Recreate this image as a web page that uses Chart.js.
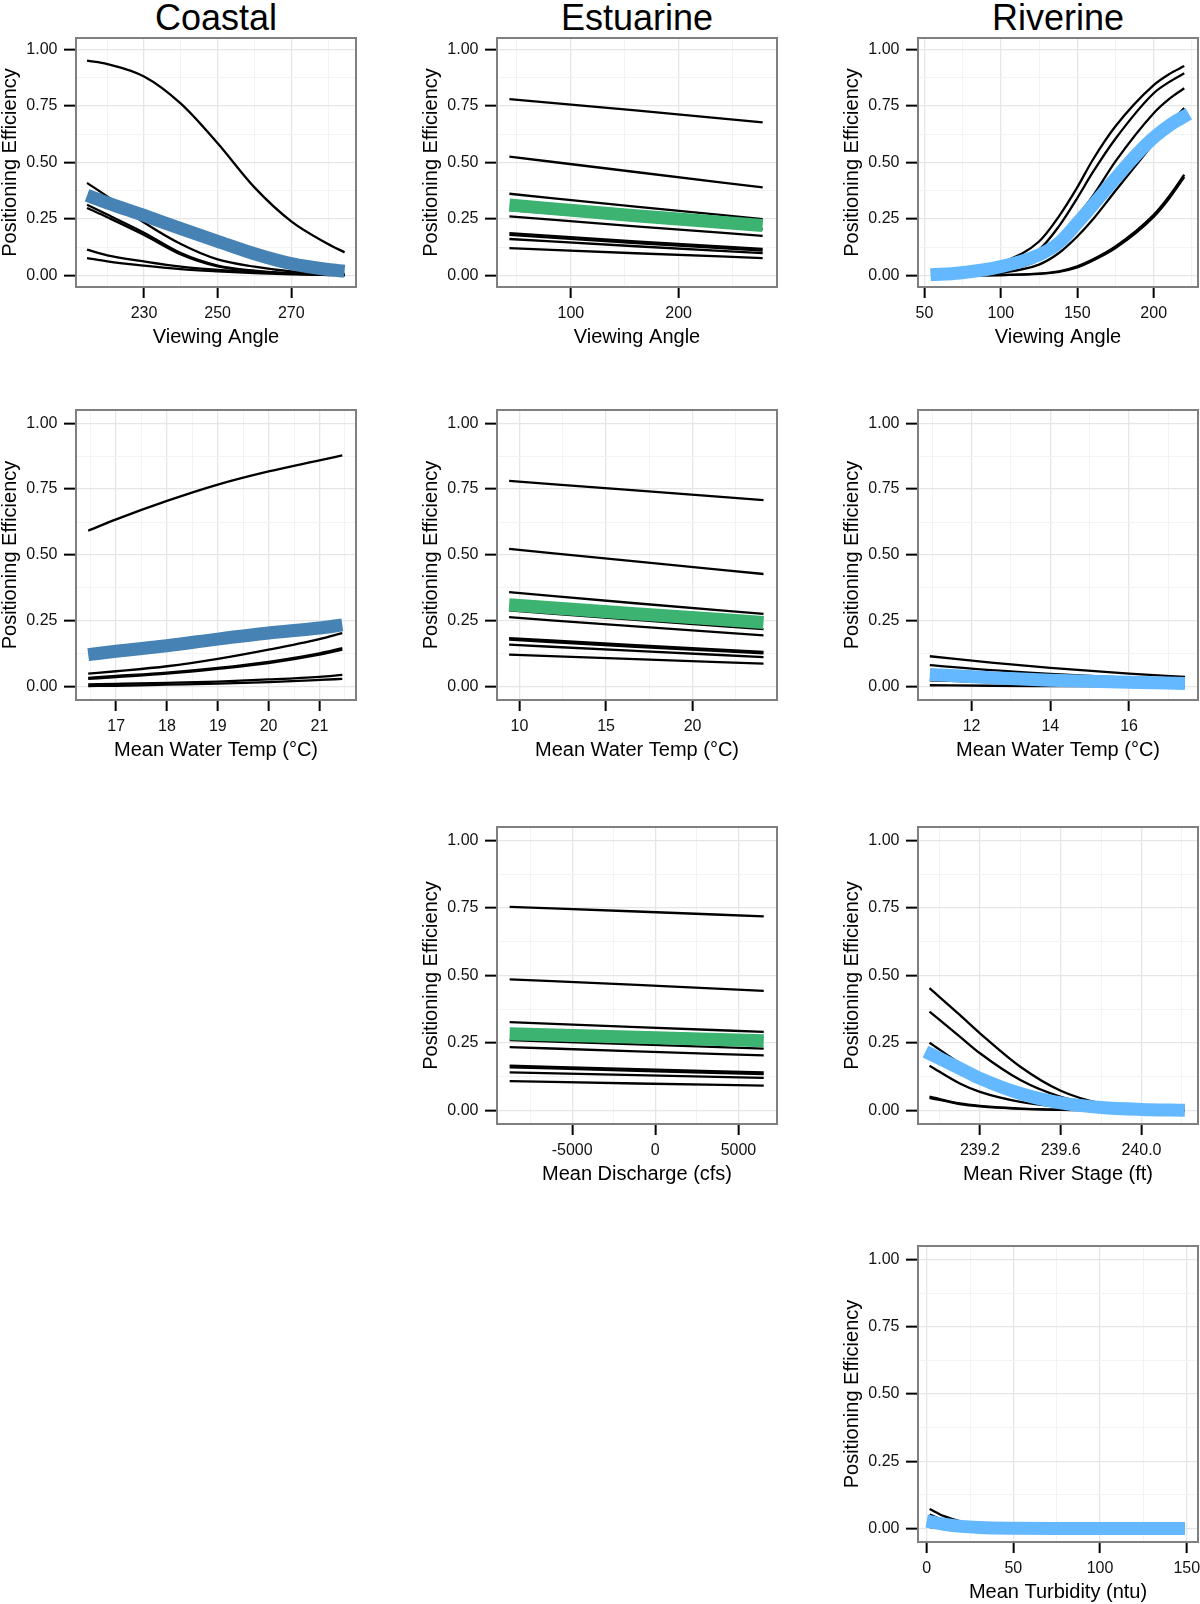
<!DOCTYPE html>
<html>
<head>
<meta charset="utf-8">
<title>Positioning Efficiency</title>
<script src="https://cdn.jsdelivr.net/npm/chart.js@4.4.1/dist/chart.umd.min.js"></script>
<style>
  html, body { margin: 0; padding: 0; background: #fff; overflow: hidden; }
  body { position: relative; width: 1200px; height: 1604px; font-family: "Liberation Sans", Arial, Helvetica, sans-serif; }
  .col-title { position: absolute; top: 0; font-size: 36px; line-height: 36px; text-align: center; color: #000; }
  canvas { position: absolute; }
</style>
</head>
<body>
<div class="col-title" style="left:76px;width:280px">Coastal</div>
<div class="col-title" style="left:497px;width:280px">Estuarine</div>
<div class="col-title" style="left:918px;width:280px">Riverine</div>

<script>
// ---- shared y axis ----
const yMajor = [0, 0.25, 0.5, 0.75, 1];
const yMinor = [0.125, 0.375, 0.625, 0.875];

// ---- Coastal, viewing angle ----
const coastalAngleX = [214.5, 220, 230, 240, 250, 260, 270, 280, 284.5];
const coastalAngleFit = [0.355, 0.322, 0.266, 0.208, 0.152, 0.097, 0.053, 0.027, 0.02];
const coastalAngleLines = [
  [0.95, 0.935, 0.88, 0.76, 0.585, 0.39, 0.24, 0.14, 0.103],
  [0.41, 0.35, 0.235, 0.14, 0.072, 0.04, 0.019, 0.01, 0.008],
  [0.313, 0.27, 0.19, 0.1, 0.045, 0.022, 0.01, 0.005, 0.004],
  [0.299, 0.258, 0.18, 0.094, 0.041, 0.02, 0.009, 0.005, 0.003],
  [0.115, 0.09, 0.063, 0.04, 0.026, 0.016, 0.009, 0.005, 0.003],
  [0.078, 0.063, 0.044, 0.029, 0.019, 0.011, 0.006, 0.003, 0.002]
];

// ---- Estuarine, viewing angle ----
const estuarineAngleX = [43, 160, 278];
const estuarineAngleFit = [0.312, 0.265, 0.222];
const estuarineAngleLines = [
  [0.78, 0.73, 0.677],
  [0.526, 0.458, 0.39],
  [0.362, 0.305, 0.25],
  [0.29, 0.247, 0.205],
  [0.262, 0.218, 0.176],
  [0.188, 0.151, 0.118],
  [0.18, 0.144, 0.111],
  [0.162, 0.13, 0.1],
  [0.122, 0.099, 0.078]
];

// ---- Riverine, viewing angle ----
const riverineAngleX = [55, 80, 100, 125, 138, 150, 160, 175, 200, 210, 220];
const riverineAngleFitX = [54, 73, 100, 125, 138, 150, 160, 175, 188, 200, 212, 223];
const riverineAngleFit = [0.004, 0.012, 0.04, 0.092, 0.145, 0.232, 0.31, 0.43, 0.53, 0.61, 0.672, 0.715];
const riverineAngleLines = [
  [0.002, 0.015, 0.056, 0.151, 0.262, 0.39, 0.51, 0.66, 0.842, 0.89, 0.926],
  [0.002, 0.012, 0.049, 0.115, 0.218, 0.343, 0.455, 0.605, 0.806, 0.855, 0.894],
  [0.001, 0.006, 0.026, 0.071, 0.159, 0.262, 0.35, 0.505, 0.718, 0.78, 0.828],
  [0, 0.003, 0.013, 0.049, 0.1, 0.173, 0.247, 0.375, 0.585, 0.67, 0.74],
  [0, 0.001, 0.003, 0.009, 0.019, 0.041, 0.071, 0.129, 0.269, 0.35, 0.446],
  [0, 0.001, 0.003, 0.008, 0.017, 0.037, 0.066, 0.122, 0.26, 0.34, 0.436]
];

// ---- Coastal, water temp ----
const coastalTempX = [16.45, 17, 18, 19, 20, 21, 21.45];
const coastalTempFit = [0.122, 0.135, 0.156, 0.181, 0.204, 0.223, 0.235];
const coastalTempLines = [
  [0.592, 0.635, 0.705, 0.767, 0.817, 0.859, 0.878],
  [0.05, 0.059, 0.078, 0.106, 0.141, 0.181, 0.204],
  [0.03, 0.037, 0.05, 0.068, 0.09, 0.122, 0.141],
  [0.034, 0.041, 0.054, 0.072, 0.095, 0.127, 0.147],
  [0.009, 0.011, 0.015, 0.02, 0.028, 0.038, 0.045],
  [0.003, 0.004, 0.008, 0.012, 0.018, 0.026, 0.03]
];

// ---- Estuarine, water temp ----
const estuarineTempX = [9.4, 16.7, 24.1];
const estuarineTempFit = [0.311, 0.277, 0.244];
const estuarineTempLines = [
  [0.781, 0.745, 0.708],
  [0.523, 0.476, 0.428],
  [0.359, 0.317, 0.277],
  [0.29, 0.254, 0.219],
  [0.264, 0.229, 0.195],
  [0.185, 0.158, 0.132],
  [0.179, 0.152, 0.127],
  [0.16, 0.136, 0.113],
  [0.122, 0.105, 0.088]
];

// ---- Riverine, water temp ----
const riverineTempX = [10.94, 12.5, 14, 16, 17.42];
const riverineTempFit = [0.047, 0.034, 0.025, 0.017, 0.013];
const riverineTempLines = [
  [0.116, 0.092, 0.072, 0.05, 0.038],
  [0.082, 0.063, 0.049, 0.034, 0.027],
  [0.025, 0.018, 0.013, 0.009, 0.007],
  [0.006, 0.004, 0.003, 0.002, 0.001]
];

// ---- Estuarine, discharge ----
const estuarineFlowX = [-8760, -1100, 6520];
const estuarineFlowFit = [0.284, 0.271, 0.258];
const estuarineFlowLines = [
  [0.754, 0.737, 0.719],
  [0.486, 0.465, 0.443],
  [0.327, 0.309, 0.291],
  [0.261, 0.245, 0.229],
  [0.235, 0.219, 0.204],
  [0.166, 0.153, 0.141],
  [0.16, 0.147, 0.135],
  [0.141, 0.131, 0.121],
  [0.109, 0.1, 0.092]
];

// ---- Riverine, river stage ----
const riverineStageX = [238.95, 239.1, 239.2, 239.4, 239.6, 239.8, 240.0, 240.215];
const riverineStageFitX = [238.93, 239.1, 239.2, 239.4, 239.6, 239.8, 240.0, 240.215];
const riverineStageFit = [0.218, 0.156, 0.119, 0.063, 0.028, 0.011, 0.004, 0.001];
const riverineStageLines = [
  [0.453, 0.354, 0.286, 0.162, 0.073, 0.026, 0.009, 0.003],
  [0.366, 0.274, 0.212, 0.113, 0.051, 0.019, 0.006, 0.002],
  [0.251, 0.175, 0.131, 0.069, 0.028, 0.011, 0.004, 0.001],
  [0.166, 0.1, 0.069, 0.032, 0.014, 0.006, 0.002, 0.001],
  [0.051, 0.026, 0.017, 0.007, 0.003, 0.001, 0, 0],
  [0.047, 0.024, 0.015, 0.006, 0.002, 0.001, 0, 0]
];

// ---- Riverine, turbidity ----
const turbidityX = [1.7, 10, 20, 30, 50, 75, 100, 149];
const turbidityFitX = [0, 10, 20, 30, 50, 75, 100, 149];
const turbidityFit = [0.028, 0.016, 0.008, 0.004, 0.001, 0, 0, 0];
const turbidityLines = [
  [0.073, 0.046, 0.026, 0.015, 0.006, 0.002, 0.001, 0],
  [0.052, 0.031, 0.017, 0.01, 0.004, 0.001, 0, 0],
  [0.005, 0.003, 0.002, 0.001, 0, 0, 0, 0]
];

const coastalColor = "#4682b4";
const estuarineColor = "#3cb371";
const riverineColor = "#63b8ff";

// plot area edges in page pixels
const colLeft = [76, 497, 918];
const colRight = [356, 777, 1198];
const rowTop = [38, 410, 827, 1246];
const rowBottom = [287, 700, 1124, 1542];

const panels = [
  { col: 0, row: 0, title: "Viewing Angle", min: 211.5, max: 287.6, major: [230, 250, 270], minor: [220, 240, 260, 280],
    x: coastalAngleX, lines: coastalAngleLines, fitX: coastalAngleX, fit: coastalAngleFit, color: coastalColor },
  { col: 1, row: 0, title: "Viewing Angle", min: 31.5, max: 291.3, major: [100, 200], minor: [50, 150, 250],
    x: estuarineAngleX, lines: estuarineAngleLines, fitX: estuarineAngleX, fit: estuarineAngleFit, color: estuarineColor },
  { col: 2, row: 0, title: "Viewing Angle", min: 45.8, max: 229, major: [50, 100, 150, 200], minor: [75, 125, 175, 225],
    x: riverineAngleX, lines: riverineAngleLines, fitX: riverineAngleFitX, fit: riverineAngleFit, color: riverineColor },
  { col: 0, row: 1, title: "Mean Water Temp (°C)", min: 16.21, max: 21.72, major: [17, 18, 19, 20, 21], minor: [16.5, 17.5, 18.5, 19.5, 20.5, 21.5],
    x: coastalTempX, lines: coastalTempLines, fitX: coastalTempX, fit: coastalTempFit, color: coastalColor },
  { col: 1, row: 1, title: "Mean Water Temp (°C)", min: 8.7, max: 24.88, major: [10, 15, 20], minor: [12.5, 17.5, 22.5],
    x: estuarineTempX, lines: estuarineTempLines, fitX: estuarineTempX, fit: estuarineTempFit, color: estuarineColor },
  { col: 2, row: 1, title: "Mean Water Temp (°C)", min: 10.64, max: 17.75, major: [12, 14, 16], minor: [11, 13, 15, 17],
    x: riverineTempX, lines: riverineTempLines, fitX: riverineTempX, fit: riverineTempFit, color: riverineColor },
  { col: 1, row: 2, title: "Mean Discharge (cfs)", min: -9520, max: 7317, major: [-5000, 0, 5000], minor: [-7500, -2500, 2500],
    x: estuarineFlowX, lines: estuarineFlowLines, fitX: estuarineFlowX, fit: estuarineFlowFit, color: estuarineColor },
  { col: 2, row: 2, title: "Mean River Stage (ft)", min: 238.893, max: 240.28, major: [239.2, 239.6, 240.0], minor: [239.0, 239.4, 239.8, 240.2],
    x: riverineStageX, lines: riverineStageLines, fitX: riverineStageFitX, fit: riverineStageFit, color: riverineColor, digits: 1 },
  { col: 2, row: 3, title: "Mean Turbidity (ntu)", min: -5, max: 156.5, major: [0, 50, 100, 150], minor: [25, 75, 125],
    x: turbidityX, lines: turbidityLines, fitX: turbidityFitX, fit: turbidityFit, color: riverineColor }
];

document.addEventListener("DOMContentLoaded", () => {
  const FONT = '"Liberation Sans", Arial, Helvetica, sans-serif';
  const Y_AXIS_W = 78;
  const X_AXIS_H = 62;
  const PAD_TOP = 20;   // room for the top tick label, chart.js reserves it anyway
  const PAD_RIGHT = 10;

  // grey box round each panel, drawn over the lines like ggplot's panel border
  const frame = {
    id: "frame",
    afterDatasetsDraw(chart) {
      const { ctx, chartArea: a } = chart;
      ctx.save();
      ctx.strokeStyle = "#7f7f7f";
      ctx.lineWidth = 2;
      ctx.strokeRect(a.left, a.top, a.right - a.left, a.bottom - a.top);
      ctx.restore();
    }
  };

  function tickList(major, minor) {
    return major.map((v) => ({ value: v, kind: "major" }))
      .concat(minor.map((v) => ({ value: v, kind: "minor" })))
      .sort((a, b) => a.value - b.value);
  }

  function points(xs, ys) {
    return xs.map((x, i) => ({ x, y: ys[i] }));
  }

  function axisGrid(tickLen) {
    return {
      color: (c) => (c.tick && c.tick.kind === "major" ? "#e6e6e6" : "#f3f3f3"),
      lineWidth: (c) => (c.tick && c.tick.kind === "major" ? 1.3 : 1),
      tickColor: (c) => (c.tick && c.tick.kind === "major" ? "#000" : "rgba(0,0,0,0)"),
      tickWidth: (c) => (c.tick && c.tick.kind === "major" ? 2 : 0),
      tickLength: tickLen,
      drawTicks: true
    };
  }

  panels.forEach((p) => {
    const plotLeft = colLeft[p.col], plotRight = colRight[p.col];
    const plotTop = rowTop[p.row], plotBottom = rowBottom[p.row];
    const left = plotLeft - Y_AXIS_W;
    const top = plotTop - PAD_TOP;
    const width = plotRight + PAD_RIGHT - left;
    const height = plotBottom + X_AXIS_H - top;

    const canvas = document.createElement("canvas");
    canvas.width = width;
    canvas.height = height;
    canvas.style.left = left + "px";
    canvas.style.top = top + "px";
    canvas.style.width = width + "px";
    canvas.style.height = height + "px";
    document.body.appendChild(canvas);

    const datasets = p.lines.map((ys) => ({
      data: points(p.x, ys),
      borderColor: "#000",
      borderWidth: 2.3,
      order: 1
    }));
    datasets.push({
      data: points(p.fitX, p.fit),
      borderColor: p.color,
      borderWidth: 13,
      borderCapStyle: "butt",
      order: 0
    });

    const xTicks = tickList(p.major, p.minor);
    const yTicks = tickList(yMajor, yMinor);

    new Chart(canvas, {
      type: "line",
      data: { datasets },
      options: {
        responsive: false,
        animation: false,
        devicePixelRatio: 1,
        layout: { padding: { top: PAD_TOP, right: PAD_RIGHT, left: 0, bottom: 0 } },
        elements: {
          point: { radius: 0, hoverRadius: 0 },
          line: { cubicInterpolationMode: "monotone", fill: false }
        },
        plugins: { legend: { display: false }, tooltip: { enabled: false } },
        events: [],
        scales: {
          x: {
            type: "linear",
            min: p.min,
            max: p.max,
            afterBuildTicks: (s) => { s.ticks = xTicks.map((t) => ({ ...t })); },
            afterFit: (s) => { s.height = X_AXIS_H; },
            border: { display: false },
            grid: axisGrid(11),
            ticks: {
              autoSkip: false,
              maxRotation: 0,
              minRotation: 0,
              padding: 6,
              color: "#111",
              font: { family: FONT, size: 16 },
              callback: (v, i, ticks) =>
                ticks[i].kind === "major" ? (p.digits ? v.toFixed(p.digits) : String(v)) : ""
            },
            title: {
              display: true,
              text: p.title,
              color: "#000",
              padding: 0,
              font: { family: FONT, size: 20 }
            }
          },
          y: {
            type: "linear",
            min: -0.05,
            max: 1.05,
            afterBuildTicks: (s) => { s.ticks = yTicks.map((t) => ({ ...t })); },
            afterFit: (s) => { s.width = Y_AXIS_W; },
            border: { display: false },
            grid: axisGrid(12),
            ticks: {
              autoSkip: false,
              padding: 6.5,
              color: "#111",
              font: { family: FONT, size: 16 },
              callback: (v, i, ticks) => (ticks[i].kind === "major" ? v.toFixed(2) : "")
            },
            title: {
              display: true,
              text: "Positioning Efficiency",
              color: "#000",
              padding: 0,
              font: { family: FONT, size: 20 }
            }
          }
        }
      },
      plugins: [frame]
    });
  });
});
</script>
</body>
</html>
